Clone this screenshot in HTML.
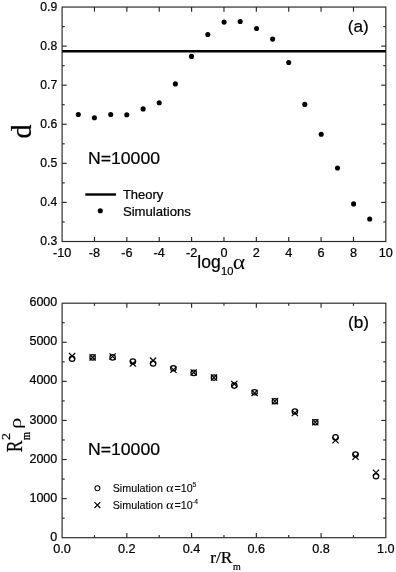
<!DOCTYPE html>
<html lang="en">
<head>
<meta charset="utf-8">
<title>Figure</title>
<style>
html,body{margin:0;padding:0;background:#fff;}
body{width:396px;height:572px;overflow:hidden;}
svg{display:block;}
text{fill:#000;stroke:#000;stroke-width:0.22px;}
</style>
</head>
<body>
<svg width="396" height="572" viewBox="0 0 396 572">
<rect x="0" y="0" width="396" height="572" fill="#fff"/>
<rect x="62.10" y="7.05" width="323.75" height="234.45" fill="none" stroke="#262626" stroke-width="1.15"/>
<text transform="translate(62.10 256.70) scale(1.03 1.0)" font-family='"Liberation Sans", Arial, sans-serif' font-size="12.3" text-anchor="middle" >-10</text>
<line x1="94.47" y1="241.50" x2="94.47" y2="236.90" stroke="#262626" stroke-width="1.15"/>
<line x1="94.47" y1="7.05" x2="94.47" y2="11.65" stroke="#262626" stroke-width="1.15"/>
<text transform="translate(94.47 256.70) scale(1.03 1.0)" font-family='"Liberation Sans", Arial, sans-serif' font-size="12.3" text-anchor="middle" >-8</text>
<line x1="126.85" y1="241.50" x2="126.85" y2="236.90" stroke="#262626" stroke-width="1.15"/>
<line x1="126.85" y1="7.05" x2="126.85" y2="11.65" stroke="#262626" stroke-width="1.15"/>
<text transform="translate(126.85 256.70) scale(1.03 1.0)" font-family='"Liberation Sans", Arial, sans-serif' font-size="12.3" text-anchor="middle" >-6</text>
<line x1="159.22" y1="241.50" x2="159.22" y2="236.90" stroke="#262626" stroke-width="1.15"/>
<line x1="159.22" y1="7.05" x2="159.22" y2="11.65" stroke="#262626" stroke-width="1.15"/>
<text transform="translate(159.22 256.70) scale(1.03 1.0)" font-family='"Liberation Sans", Arial, sans-serif' font-size="12.3" text-anchor="middle" >-4</text>
<line x1="191.60" y1="241.50" x2="191.60" y2="236.90" stroke="#262626" stroke-width="1.15"/>
<line x1="191.60" y1="7.05" x2="191.60" y2="11.65" stroke="#262626" stroke-width="1.15"/>
<text transform="translate(191.60 256.70) scale(1.03 1.0)" font-family='"Liberation Sans", Arial, sans-serif' font-size="12.3" text-anchor="middle" >-2</text>
<line x1="223.97" y1="241.50" x2="223.97" y2="236.90" stroke="#262626" stroke-width="1.15"/>
<line x1="223.97" y1="7.05" x2="223.97" y2="11.65" stroke="#262626" stroke-width="1.15"/>
<text transform="translate(223.97 256.70) scale(1.03 1.0)" font-family='"Liberation Sans", Arial, sans-serif' font-size="12.3" text-anchor="middle" >0</text>
<line x1="256.35" y1="241.50" x2="256.35" y2="236.90" stroke="#262626" stroke-width="1.15"/>
<line x1="256.35" y1="7.05" x2="256.35" y2="11.65" stroke="#262626" stroke-width="1.15"/>
<text transform="translate(256.35 256.70) scale(1.03 1.0)" font-family='"Liberation Sans", Arial, sans-serif' font-size="12.3" text-anchor="middle" >2</text>
<line x1="288.73" y1="241.50" x2="288.73" y2="236.90" stroke="#262626" stroke-width="1.15"/>
<line x1="288.73" y1="7.05" x2="288.73" y2="11.65" stroke="#262626" stroke-width="1.15"/>
<text transform="translate(288.73 256.70) scale(1.03 1.0)" font-family='"Liberation Sans", Arial, sans-serif' font-size="12.3" text-anchor="middle" >4</text>
<line x1="321.10" y1="241.50" x2="321.10" y2="236.90" stroke="#262626" stroke-width="1.15"/>
<line x1="321.10" y1="7.05" x2="321.10" y2="11.65" stroke="#262626" stroke-width="1.15"/>
<text transform="translate(321.10 256.70) scale(1.03 1.0)" font-family='"Liberation Sans", Arial, sans-serif' font-size="12.3" text-anchor="middle" >6</text>
<line x1="353.48" y1="241.50" x2="353.48" y2="236.90" stroke="#262626" stroke-width="1.15"/>
<line x1="353.48" y1="7.05" x2="353.48" y2="11.65" stroke="#262626" stroke-width="1.15"/>
<text transform="translate(353.48 256.70) scale(1.03 1.0)" font-family='"Liberation Sans", Arial, sans-serif' font-size="12.3" text-anchor="middle" >8</text>
<text transform="translate(385.85 256.70) scale(1.03 1.0)" font-family='"Liberation Sans", Arial, sans-serif' font-size="12.3" text-anchor="middle" >10</text>
<text transform="translate(57.20 245.30) scale(0.99 1.0)" font-family='"Liberation Sans", Arial, sans-serif' font-size="12.3" text-anchor="end" >0.3</text>
<line x1="62.10" y1="221.96" x2="64.70" y2="221.96" stroke="#262626" stroke-width="1.15"/>
<line x1="385.85" y1="221.96" x2="383.25" y2="221.96" stroke="#262626" stroke-width="1.15"/>
<line x1="62.10" y1="202.42" x2="66.70" y2="202.42" stroke="#262626" stroke-width="1.15"/>
<line x1="385.85" y1="202.42" x2="381.25" y2="202.42" stroke="#262626" stroke-width="1.15"/>
<text transform="translate(57.20 206.23) scale(0.99 1.0)" font-family='"Liberation Sans", Arial, sans-serif' font-size="12.3" text-anchor="end" >0.4</text>
<line x1="62.10" y1="182.89" x2="64.70" y2="182.89" stroke="#262626" stroke-width="1.15"/>
<line x1="385.85" y1="182.89" x2="383.25" y2="182.89" stroke="#262626" stroke-width="1.15"/>
<line x1="62.10" y1="163.35" x2="66.70" y2="163.35" stroke="#262626" stroke-width="1.15"/>
<line x1="385.85" y1="163.35" x2="381.25" y2="163.35" stroke="#262626" stroke-width="1.15"/>
<text transform="translate(57.20 167.15) scale(0.99 1.0)" font-family='"Liberation Sans", Arial, sans-serif' font-size="12.3" text-anchor="end" >0.5</text>
<line x1="62.10" y1="143.81" x2="64.70" y2="143.81" stroke="#262626" stroke-width="1.15"/>
<line x1="385.85" y1="143.81" x2="383.25" y2="143.81" stroke="#262626" stroke-width="1.15"/>
<line x1="62.10" y1="124.27" x2="66.70" y2="124.27" stroke="#262626" stroke-width="1.15"/>
<line x1="385.85" y1="124.27" x2="381.25" y2="124.27" stroke="#262626" stroke-width="1.15"/>
<text transform="translate(57.20 128.08) scale(0.99 1.0)" font-family='"Liberation Sans", Arial, sans-serif' font-size="12.3" text-anchor="end" >0.6</text>
<line x1="62.10" y1="104.74" x2="64.70" y2="104.74" stroke="#262626" stroke-width="1.15"/>
<line x1="385.85" y1="104.74" x2="383.25" y2="104.74" stroke="#262626" stroke-width="1.15"/>
<line x1="62.10" y1="85.20" x2="66.70" y2="85.20" stroke="#262626" stroke-width="1.15"/>
<line x1="385.85" y1="85.20" x2="381.25" y2="85.20" stroke="#262626" stroke-width="1.15"/>
<text transform="translate(57.20 89.00) scale(0.99 1.0)" font-family='"Liberation Sans", Arial, sans-serif' font-size="12.3" text-anchor="end" >0.7</text>
<line x1="62.10" y1="65.66" x2="64.70" y2="65.66" stroke="#262626" stroke-width="1.15"/>
<line x1="385.85" y1="65.66" x2="383.25" y2="65.66" stroke="#262626" stroke-width="1.15"/>
<line x1="62.10" y1="46.12" x2="66.70" y2="46.12" stroke="#262626" stroke-width="1.15"/>
<line x1="385.85" y1="46.12" x2="381.25" y2="46.12" stroke="#262626" stroke-width="1.15"/>
<text transform="translate(57.20 49.93) scale(0.99 1.0)" font-family='"Liberation Sans", Arial, sans-serif' font-size="12.3" text-anchor="end" >0.8</text>
<line x1="62.10" y1="26.59" x2="64.70" y2="26.59" stroke="#262626" stroke-width="1.15"/>
<line x1="385.85" y1="26.59" x2="383.25" y2="26.59" stroke="#262626" stroke-width="1.15"/>
<text transform="translate(57.20 10.85) scale(0.99 1.0)" font-family='"Liberation Sans", Arial, sans-serif' font-size="12.3" text-anchor="end" >0.9</text>
<line x1="62.10" y1="51.30" x2="385.85" y2="51.30" stroke="#000" stroke-width="2.4"/>
<circle cx="78.3" cy="114.5" r="2.55" fill="#000"/>
<circle cx="94.4" cy="117.7" r="2.55" fill="#000"/>
<circle cx="110.7" cy="114.5" r="2.55" fill="#000"/>
<circle cx="126.8" cy="114.8" r="2.55" fill="#000"/>
<circle cx="143.1" cy="108.9" r="2.55" fill="#000"/>
<circle cx="159.2" cy="102.7" r="2.55" fill="#000"/>
<circle cx="175.4" cy="83.9" r="2.55" fill="#000"/>
<circle cx="191.5" cy="56.4" r="2.55" fill="#000"/>
<circle cx="207.8" cy="34.5" r="2.55" fill="#000"/>
<circle cx="224.1" cy="22.1" r="2.55" fill="#000"/>
<circle cx="240.2" cy="21.5" r="2.55" fill="#000"/>
<circle cx="256.5" cy="28.5" r="2.55" fill="#000"/>
<circle cx="272.6" cy="39.1" r="2.55" fill="#000"/>
<circle cx="288.7" cy="62.5" r="2.55" fill="#000"/>
<circle cx="304.8" cy="104.4" r="2.55" fill="#000"/>
<circle cx="321.2" cy="134.3" r="2.55" fill="#000"/>
<circle cx="337.5" cy="168.0" r="2.55" fill="#000"/>
<circle cx="353.6" cy="203.9" r="2.55" fill="#000"/>
<circle cx="369.7" cy="219.0" r="2.55" fill="#000"/>
<text transform="translate(347.70 32.10) scale(1.0 1.0)" font-family='"Liberation Sans", Arial, sans-serif' font-size="17.2" text-anchor="start" >(a)</text>
<text transform="translate(87.90 164.40) scale(1.015 1.0)" font-family='"Liberation Sans", Arial, sans-serif' font-size="17.4" text-anchor="start" >N=10000</text>
<line x1="85.30" y1="194.50" x2="116.00" y2="194.50" stroke="#000" stroke-width="2.4"/>
<circle cx="100.3" cy="210.8" r="2.55" fill="#000"/>
<text transform="translate(122.90 199.10) scale(1.03 1.0)" font-family='"Liberation Sans", Arial, sans-serif' font-size="12.6" text-anchor="start" >Theory</text>
<text transform="translate(122.90 215.70) scale(1.045 1.0)" font-family='"Liberation Sans", Arial, sans-serif' font-size="12.6" text-anchor="start" >Simulations</text>
<text transform="translate(197.30 268.30) scale(1.0 1.0)" font-family='"Liberation Sans", Arial, sans-serif' font-size="17.5" text-anchor="start" >log</text>
<text transform="translate(221.00 275.20) scale(1.03 1.0)" font-family='"Liberation Sans", Arial, sans-serif' font-size="10.8" text-anchor="start" >10</text>
<text transform="translate(232.70 268.80) scale(1.1 1.0)" font-family='"Liberation Serif", "Times New Roman", serif' font-size="21.5" text-anchor="start" style="stroke-width:0">α</text>
<text transform="translate(30.8 138.5) rotate(-90) scale(1 1.05)" font-family='"Liberation Serif", "Times New Roman", serif' font-size="28.2" text-anchor="start">d</text>
<rect x="62.10" y="303.20" width="323.75" height="234.50" fill="none" stroke="#262626" stroke-width="1.15"/>
<text transform="translate(62.10 552.80) scale(1.03 1.0)" font-family='"Liberation Sans", Arial, sans-serif' font-size="12.3" text-anchor="middle" >0.0</text>
<line x1="94.47" y1="537.70" x2="94.47" y2="535.10" stroke="#262626" stroke-width="1.15"/>
<line x1="94.47" y1="303.20" x2="94.47" y2="305.80" stroke="#262626" stroke-width="1.15"/>
<line x1="126.85" y1="537.70" x2="126.85" y2="533.10" stroke="#262626" stroke-width="1.15"/>
<line x1="126.85" y1="303.20" x2="126.85" y2="307.80" stroke="#262626" stroke-width="1.15"/>
<text transform="translate(126.85 552.80) scale(1.03 1.0)" font-family='"Liberation Sans", Arial, sans-serif' font-size="12.3" text-anchor="middle" >0.2</text>
<line x1="159.22" y1="537.70" x2="159.22" y2="535.10" stroke="#262626" stroke-width="1.15"/>
<line x1="159.22" y1="303.20" x2="159.22" y2="305.80" stroke="#262626" stroke-width="1.15"/>
<line x1="191.60" y1="537.70" x2="191.60" y2="533.10" stroke="#262626" stroke-width="1.15"/>
<line x1="191.60" y1="303.20" x2="191.60" y2="307.80" stroke="#262626" stroke-width="1.15"/>
<text transform="translate(191.60 552.80) scale(1.03 1.0)" font-family='"Liberation Sans", Arial, sans-serif' font-size="12.3" text-anchor="middle" >0.4</text>
<line x1="223.97" y1="537.70" x2="223.97" y2="535.10" stroke="#262626" stroke-width="1.15"/>
<line x1="223.97" y1="303.20" x2="223.97" y2="305.80" stroke="#262626" stroke-width="1.15"/>
<line x1="256.35" y1="537.70" x2="256.35" y2="533.10" stroke="#262626" stroke-width="1.15"/>
<line x1="256.35" y1="303.20" x2="256.35" y2="307.80" stroke="#262626" stroke-width="1.15"/>
<text transform="translate(256.35 552.80) scale(1.03 1.0)" font-family='"Liberation Sans", Arial, sans-serif' font-size="12.3" text-anchor="middle" >0.6</text>
<line x1="288.72" y1="537.70" x2="288.72" y2="535.10" stroke="#262626" stroke-width="1.15"/>
<line x1="288.72" y1="303.20" x2="288.72" y2="305.80" stroke="#262626" stroke-width="1.15"/>
<line x1="321.10" y1="537.70" x2="321.10" y2="533.10" stroke="#262626" stroke-width="1.15"/>
<line x1="321.10" y1="303.20" x2="321.10" y2="307.80" stroke="#262626" stroke-width="1.15"/>
<text transform="translate(321.10 552.80) scale(1.03 1.0)" font-family='"Liberation Sans", Arial, sans-serif' font-size="12.3" text-anchor="middle" >0.8</text>
<line x1="353.48" y1="537.70" x2="353.48" y2="535.10" stroke="#262626" stroke-width="1.15"/>
<line x1="353.48" y1="303.20" x2="353.48" y2="305.80" stroke="#262626" stroke-width="1.15"/>
<text transform="translate(385.85 552.80) scale(1.03 1.0)" font-family='"Liberation Sans", Arial, sans-serif' font-size="12.3" text-anchor="middle" >1.0</text>
<text transform="translate(57.30 540.80) scale(1.02 1.0)" font-family='"Liberation Sans", Arial, sans-serif' font-size="12.3" text-anchor="end" >0</text>
<line x1="62.10" y1="518.16" x2="64.70" y2="518.16" stroke="#262626" stroke-width="1.15"/>
<line x1="385.85" y1="518.16" x2="383.25" y2="518.16" stroke="#262626" stroke-width="1.15"/>
<line x1="62.10" y1="498.62" x2="66.70" y2="498.62" stroke="#262626" stroke-width="1.15"/>
<line x1="385.85" y1="498.62" x2="381.25" y2="498.62" stroke="#262626" stroke-width="1.15"/>
<text transform="translate(57.30 501.72) scale(1.02 1.0)" font-family='"Liberation Sans", Arial, sans-serif' font-size="12.3" text-anchor="end" >1000</text>
<line x1="62.10" y1="479.08" x2="64.70" y2="479.08" stroke="#262626" stroke-width="1.15"/>
<line x1="385.85" y1="479.08" x2="383.25" y2="479.08" stroke="#262626" stroke-width="1.15"/>
<line x1="62.10" y1="459.53" x2="66.70" y2="459.53" stroke="#262626" stroke-width="1.15"/>
<line x1="385.85" y1="459.53" x2="381.25" y2="459.53" stroke="#262626" stroke-width="1.15"/>
<text transform="translate(57.30 462.64) scale(1.02 1.0)" font-family='"Liberation Sans", Arial, sans-serif' font-size="12.3" text-anchor="end" >2000</text>
<line x1="62.10" y1="439.99" x2="64.70" y2="439.99" stroke="#262626" stroke-width="1.15"/>
<line x1="385.85" y1="439.99" x2="383.25" y2="439.99" stroke="#262626" stroke-width="1.15"/>
<line x1="62.10" y1="420.45" x2="66.70" y2="420.45" stroke="#262626" stroke-width="1.15"/>
<line x1="385.85" y1="420.45" x2="381.25" y2="420.45" stroke="#262626" stroke-width="1.15"/>
<text transform="translate(57.30 423.55) scale(1.02 1.0)" font-family='"Liberation Sans", Arial, sans-serif' font-size="12.3" text-anchor="end" >3000</text>
<line x1="62.10" y1="400.91" x2="64.70" y2="400.91" stroke="#262626" stroke-width="1.15"/>
<line x1="385.85" y1="400.91" x2="383.25" y2="400.91" stroke="#262626" stroke-width="1.15"/>
<line x1="62.10" y1="381.37" x2="66.70" y2="381.37" stroke="#262626" stroke-width="1.15"/>
<line x1="385.85" y1="381.37" x2="381.25" y2="381.37" stroke="#262626" stroke-width="1.15"/>
<text transform="translate(57.30 384.47) scale(1.02 1.0)" font-family='"Liberation Sans", Arial, sans-serif' font-size="12.3" text-anchor="end" >4000</text>
<line x1="62.10" y1="361.83" x2="64.70" y2="361.83" stroke="#262626" stroke-width="1.15"/>
<line x1="385.85" y1="361.83" x2="383.25" y2="361.83" stroke="#262626" stroke-width="1.15"/>
<line x1="62.10" y1="342.28" x2="66.70" y2="342.28" stroke="#262626" stroke-width="1.15"/>
<line x1="385.85" y1="342.28" x2="381.25" y2="342.28" stroke="#262626" stroke-width="1.15"/>
<text transform="translate(57.30 345.39) scale(1.02 1.0)" font-family='"Liberation Sans", Arial, sans-serif' font-size="12.3" text-anchor="end" >5000</text>
<line x1="62.10" y1="322.74" x2="64.70" y2="322.74" stroke="#262626" stroke-width="1.15"/>
<line x1="385.85" y1="322.74" x2="383.25" y2="322.74" stroke="#262626" stroke-width="1.15"/>
<text transform="translate(57.30 306.30) scale(1.02 1.0)" font-family='"Liberation Sans", Arial, sans-serif' font-size="12.3" text-anchor="end" >6000</text>
<circle cx="72.1" cy="358.8" r="2.7" fill="none" stroke="#000" stroke-width="1.25"/>
<path d="M69.0 353.0L75.2 359.2M69.0 359.2L75.2 353.0" stroke="#000" stroke-width="1.2" fill="none"/>
<circle cx="92.6" cy="357.4" r="2.7" fill="none" stroke="#000" stroke-width="1.25"/>
<path d="M89.5 354.3L95.7 360.5M89.5 360.5L95.7 354.3" stroke="#000" stroke-width="1.2" fill="none"/>
<circle cx="112.6" cy="357.4" r="2.7" fill="none" stroke="#000" stroke-width="1.25"/>
<path d="M109.5 353.4L115.7 359.6M109.5 359.6L115.7 353.4" stroke="#000" stroke-width="1.2" fill="none"/>
<circle cx="132.9" cy="361.6" r="2.7" fill="none" stroke="#000" stroke-width="1.25"/>
<path d="M129.8 360.5L136.0 366.7M129.8 366.7L136.0 360.5" stroke="#000" stroke-width="1.2" fill="none"/>
<circle cx="153.1" cy="363.5" r="2.7" fill="none" stroke="#000" stroke-width="1.25"/>
<path d="M150.0 357.5L156.2 363.7M150.0 363.7L156.2 357.5" stroke="#000" stroke-width="1.2" fill="none"/>
<circle cx="173.4" cy="368.2" r="2.7" fill="none" stroke="#000" stroke-width="1.25"/>
<path d="M170.3 366.6L176.5 372.8M170.3 372.8L176.5 366.6" stroke="#000" stroke-width="1.2" fill="none"/>
<circle cx="193.7" cy="372.9" r="2.7" fill="none" stroke="#000" stroke-width="1.25"/>
<path d="M190.6 369.3L196.8 375.5M190.6 375.5L196.8 369.3" stroke="#000" stroke-width="1.2" fill="none"/>
<circle cx="214.0" cy="377.6" r="2.7" fill="none" stroke="#000" stroke-width="1.25"/>
<path d="M210.9 374.5L217.1 380.7M210.9 380.7L217.1 374.5" stroke="#000" stroke-width="1.2" fill="none"/>
<circle cx="234.3" cy="385.6" r="2.7" fill="none" stroke="#000" stroke-width="1.25"/>
<path d="M231.2 380.8L237.4 387.0M231.2 387.0L237.4 380.8" stroke="#000" stroke-width="1.2" fill="none"/>
<circle cx="254.6" cy="392.2" r="2.7" fill="none" stroke="#000" stroke-width="1.25"/>
<path d="M251.5 389.8L257.7 396.0M251.5 396.0L257.7 389.8" stroke="#000" stroke-width="1.2" fill="none"/>
<circle cx="274.9" cy="401.3" r="2.7" fill="none" stroke="#000" stroke-width="1.25"/>
<path d="M271.8 398.2L278.0 404.4M271.8 404.4L278.0 398.2" stroke="#000" stroke-width="1.2" fill="none"/>
<circle cx="294.9" cy="411.5" r="2.7" fill="none" stroke="#000" stroke-width="1.25"/>
<path d="M291.8 409.9L298.0 416.1M291.8 416.1L298.0 409.9" stroke="#000" stroke-width="1.2" fill="none"/>
<circle cx="315.3" cy="422.3" r="2.7" fill="none" stroke="#000" stroke-width="1.25"/>
<path d="M312.2 419.2L318.4 425.4M312.2 425.4L318.4 419.2" stroke="#000" stroke-width="1.2" fill="none"/>
<circle cx="335.5" cy="437.4" r="2.7" fill="none" stroke="#000" stroke-width="1.25"/>
<path d="M332.4 437.1L338.6 443.3M332.4 443.3L338.6 437.1" stroke="#000" stroke-width="1.2" fill="none"/>
<circle cx="355.5" cy="454.5" r="2.7" fill="none" stroke="#000" stroke-width="1.25"/>
<path d="M352.4 453.7L358.6 459.9M352.4 459.9L358.6 453.7" stroke="#000" stroke-width="1.2" fill="none"/>
<circle cx="376.0" cy="476.3" r="2.7" fill="none" stroke="#000" stroke-width="1.25"/>
<path d="M372.9 469.6L379.1 475.8M372.9 475.8L379.1 469.6" stroke="#000" stroke-width="1.2" fill="none"/>
<text transform="translate(348.00 328.30) scale(1.0 1.0)" font-family='"Liberation Sans", Arial, sans-serif' font-size="17.2" text-anchor="start" >(b)</text>
<text transform="translate(87.90 455.00) scale(1.015 1.0)" font-family='"Liberation Sans", Arial, sans-serif' font-size="17.4" text-anchor="start" >N=10000</text>
<circle cx="97.4" cy="488.3" r="2.45" fill="none" stroke="#000" stroke-width="1.05"/>
<path d="M94.5 502.2L100.3 508.0M94.5 508.0L100.3 502.2" stroke="#000" stroke-width="1.15" fill="none"/>
<text transform="translate(112.70 491.80) scale(1.0 1.0)" font-family='"Liberation Sans", Arial, sans-serif' font-size="10.75" text-anchor="start" style="stroke-width:0.1px">Simulation</text>
<text transform="translate(165.90 491.90) scale(1.12 0.95)" font-family='"Liberation Serif", "Times New Roman", serif' font-size="12.8" text-anchor="start" style="stroke-width:0">α</text>
<text transform="translate(174.60 491.80) scale(1.02 1.0)" font-family='"Liberation Sans", Arial, sans-serif' font-size="10.5" text-anchor="start" style="stroke-width:0.1px">=10</text>
<text transform="translate(192.50 486.90) scale(1.0 1.0)" font-family='"Liberation Sans", Arial, sans-serif' font-size="6.8" text-anchor="start" style="stroke-width:0.1px">5</text>
<text transform="translate(112.70 508.50) scale(1.0 1.0)" font-family='"Liberation Sans", Arial, sans-serif' font-size="10.75" text-anchor="start" style="stroke-width:0.1px">Simulation</text>
<text transform="translate(165.90 508.60) scale(1.12 0.95)" font-family='"Liberation Serif", "Times New Roman", serif' font-size="12.8" text-anchor="start" style="stroke-width:0">α</text>
<text transform="translate(174.60 508.50) scale(1.02 1.0)" font-family='"Liberation Sans", Arial, sans-serif' font-size="10.5" text-anchor="start" style="stroke-width:0.1px">=10</text>
<text transform="translate(191.90 503.60) scale(1.0 1.0)" font-family='"Liberation Sans", Arial, sans-serif' font-size="6.8" text-anchor="start" style="stroke-width:0.1px">-4</text>
<text transform="translate(210.3 563.0)" font-family='"Liberation Serif", "Times New Roman", serif' font-size="17.3" text-anchor="start">r/R<tspan font-size="10" dy="6.7" dx="0.5">m</tspan></text>
<text transform="translate(22.00 452.20) rotate(-90) scale(0.82 1.06)" font-family='"Liberation Serif", "Times New Roman", serif' font-size="21.5" text-anchor="start" >R</text>
<text transform="translate(9.60 439.90) rotate(-90) scale(1.1 1.0)" font-family='"Liberation Serif", "Times New Roman", serif' font-size="12.7" text-anchor="start" >2</text>
<text transform="translate(29.80 440.00) rotate(-90) scale(0.82 1.06)" font-family='"Liberation Serif", "Times New Roman", serif' font-size="12.5" text-anchor="start" >m</text>
<text transform="translate(20.90 429.10) rotate(-90) scale(1.15 0.83)" font-family='"Liberation Serif", "Times New Roman", serif' font-size="20" text-anchor="start" style="stroke-width:0">ρ</text>
</svg>
</body>
</html>
